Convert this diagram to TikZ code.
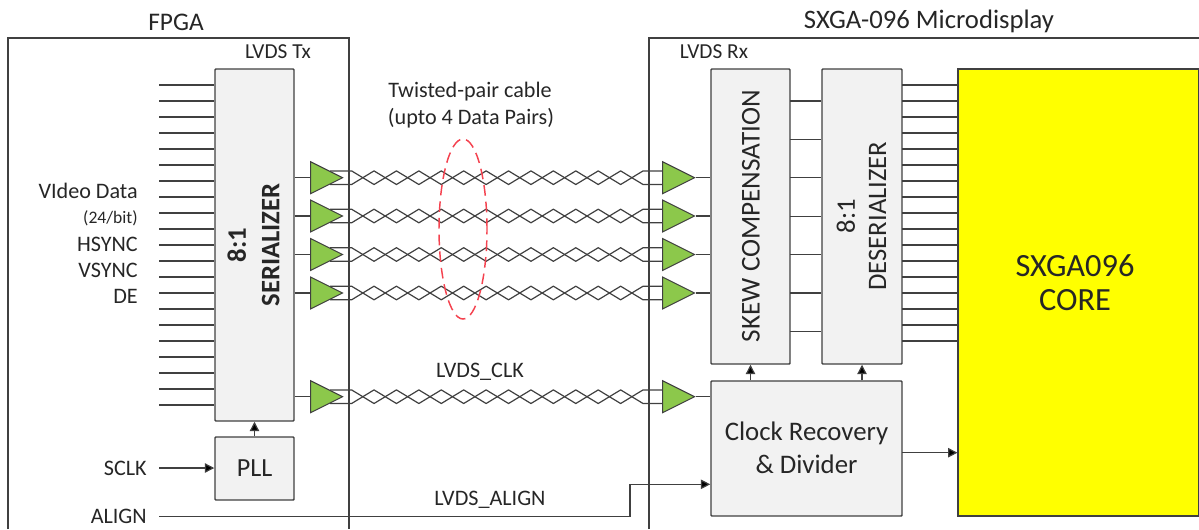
\documentclass[tikz,border=0pt]{standalone}
\usepackage{fontspec}
\setmainfont{Carlito}
\usetikzlibrary{shapes.geometric,arrows.meta}
\definecolor{ln}{HTML}{404040}
\definecolor{txt}{HTML}{262626}
\definecolor{boxg}{HTML}{F2F2F2}
\definecolor{grn}{HTML}{8CC84B}
\definecolor{redd}{HTML}{F4424F}
\definecolor{yel}{HTML}{FFFF00}
\tikzset{
  blockbox/.style={draw=ln,fill=boxg,line width=1.1pt,rounded corners=0.6pt,inner sep=0pt,text=txt,align=center},
  corebox/.style={draw=ln,fill=yel,line width=0.8pt,inner sep=0pt,text=txt,align=center},
  buf/.style={draw=ln,fill=grn,line width=0.8pt,isosceles triangle,isosceles triangle stretches,inner sep=0pt,minimum width=24pt,minimum height=24pt,anchor=lower side},
  wire/.style={draw=ln,line width=0.9pt},
  thin wire/.style={draw=ln,line width=0.9pt},
  arr/.style={draw=ln,line width=0.9pt,-{Triangle[length=7pt,width=7pt,fill=black]}},
  frame/.style={draw=ln,line width=0.9pt},
  lab/.style={text=txt,inner sep=0pt,font=\fontsize{16.6}{19}\selectfont},
  big/.style={font=\fontsize{20.1}{24}\selectfont},
}
\begin{document}
\begin{tikzpicture}[x=0.75pt,y=-0.75pt]
\useasboundingbox (0,0) rectangle (1199,529);
% frames
\coordinate (fa) at (8,529); \coordinate (fb) at (8,38); \coordinate (fc) at (349,38); \coordinate (fd) at (349,529);
\coordinate (ga) at (649,529); \coordinate (gb) at (649,38); \coordinate (gc) at (1199,38);
\draw[frame] (fa) -- (fb) -- (fc) -- (fd);
\draw[frame] (ga) -- (gb) -- (gc);
% twisted pairs
\foreach \n/\y in {1/177.7,2/216,3/254.5,4/293,5/396.7}{
  \coordinate (a\n) at (330,\y-6.8);
  \coordinate (b\n) at (330,\y+6.8);
  \draw[thin wire,line join=round] (a\n) -- (351.6,\y-6.8)
    \foreach \k in {1,...,13}{ -- ({351.6+22.42*\k},{\y+6.8*(2*mod(\k,2)-1)}) } -- (670,\y+6.8);
  \draw[thin wire,line join=round] (b\n) -- (351.6,\y+6.8)
    \foreach \k in {1,...,13}{ -- ({351.6+22.42*\k},{\y-6.8*(2*mod(\k,2)-1)}) } -- (670,\y-6.8);
}
% blocks
\node[blockbox,minimum width=59.25pt,minimum height=264pt] (ser) at (254.5,245) {};
\node[blockbox,minimum width=59.25pt,minimum height=47.25pt] (pll) at (254.5,468.5) {\fontsize{19.6}{22}\selectfont PLL};
\node[blockbox,minimum width=59.25pt,minimum height=221.25pt] (skew) at (750.5,216.5) {};
\node[blockbox,minimum width=60pt,minimum height=221.25pt] (des) at (862,216.5) {};
\node[blockbox,minimum width=143.25pt,minimum height=101.25pt] (clk) at (806.5,448.5) {};
\node[text=txt,align=center,big] (clkt) at (806.5,447.5) {Clock Recovery\\[1pt]\& Divider};
\node[corebox,minimum width=180.75pt,minimum height=335.25pt] (core) at (1078.5,292.5) {};
% rotated texts
\node[text=txt,rotate=90,align=center,font=\bfseries\fontsize{20}{25}\selectfont] (sert) at (253.5,245) {8:1\\SERIALIZER};
\node[text=txt,rotate=90,font=\fontsize{20.4}{24}\selectfont] (skewt) at (751,216) {SKEW COMPENSATION};
\node[text=txt,rotate=90,align=center,font=\fontsize{20}{23.5}\selectfont] (dest) at (861.5,216) {8:1\\DESERIALIZER};
\node[text=txt,align=center,font=\fontsize{24.3}{26}\selectfont] (coret) at (1075,282.5) {SXGA096\\CORE};
% input / output buses
\foreach \k in {0,...,20}{
  \coordinate (in\k) at (159,85+16*\k);
  \draw[wire] (in\k) -- (in\k -| ser.west);
}
\foreach \k in {0,...,16}{
  \coordinate (out\k) at (902,85+16*\k);
  \draw[wire] (out\k) -- (out\k -| core.west);
}
\foreach \k in {0,...,6}{
  \coordinate (lk\k) at (790,101+38.4*\k);
  \draw[wire] (lk\k) -- (lk\k -| des.west);
}
% buffers
\foreach \n/\y in {1/177.7,2/216,3/254.5,4/293,5/396.7}{
  \node[buf] (tx\n) at (310,\y) {};
  \node[buf] (rx\n) at (662,\y) {};
  \draw[wire] (tx\n.lower side -| ser.east) -- (tx\n.lower side);
}
\foreach \n in {1,2,3,4}{ \draw[wire] (rx\n.apex) -- (rx\n.apex -| skew.west); }
\draw[wire] (rx5.apex) -- (rx5.apex -| clk.west);
% arrows
\draw[arr] (pll.north) -- (ser.south);
\draw[arr] (clk.north -| skew.south) -- (skew.south);
\draw[arr] (clk.north -| des.south) -- (des.south);
\coordinate (sclkin) at (159,468);
\draw[arr] (sclkin) -- (sclkin -| pll.west);
\coordinate (clkout) at (902,452.7);
\draw[arr] (clkout) -- (clkout -| core.west);
\coordinate (alin) at (159,516.7);
\coordinate (alb) at (630,516.7);
\coordinate (alc) at (630,484.3);
\draw[arr] (alin) -- (alb) -- (alc) -- (alc -| clk.west);
% ellipse
\node[draw=redd,line width=1.1pt,dash pattern=on 8pt off 4.5pt,ellipse,inner sep=0pt,minimum width=36pt,minimum height=135pt] (cable) at (463,229) {};
% labels
\node[text=txt,inner sep=0pt,font=\fontsize{19}{22}\selectfont] (l1) at (176,22) {FPGA};
\node[text=txt,inner sep=0pt,font=\fontsize{20}{22}\selectfont] (l2) at (929,21) {SXGA-096 Microdisplay};
\node[lab,font=\fontsize{16}{18}\selectfont] (l3) at (278,52) {LVDS Tx};
\node[lab,font=\fontsize{16}{18}\selectfont] (l4) at (714,52) {LVDS Rx};
\node[lab] (l5) at (470,92) {Twisted-pair cable};
\node[lab] (l6) at (471,118) {(upto 4 Data Pairs)};
\node[lab,anchor=east] (l7) at (138,191) {VIdeo Data};
\node[lab,anchor=east,font=\fontsize{13.2}{15}\selectfont] (l8) at (138,218) {(24/bit)};
\node[lab,anchor=east] (l9) at (138,244) {HSYNC};
\node[lab,anchor=east] (l10) at (138,270) {VSYNC};
\node[lab,anchor=east] (l11) at (138,296) {DE};
\node[lab,anchor=east] (l12) at (147,468) {SCLK};
\node[lab,anchor=east] (l13) at (147,516) {ALIGN};
\node[lab] (l14) at (480,372) {LVDS\_CLK};
\node[lab] (l15) at (490,500) {LVDS\_ALIGN};
\end{tikzpicture}
\end{document}
